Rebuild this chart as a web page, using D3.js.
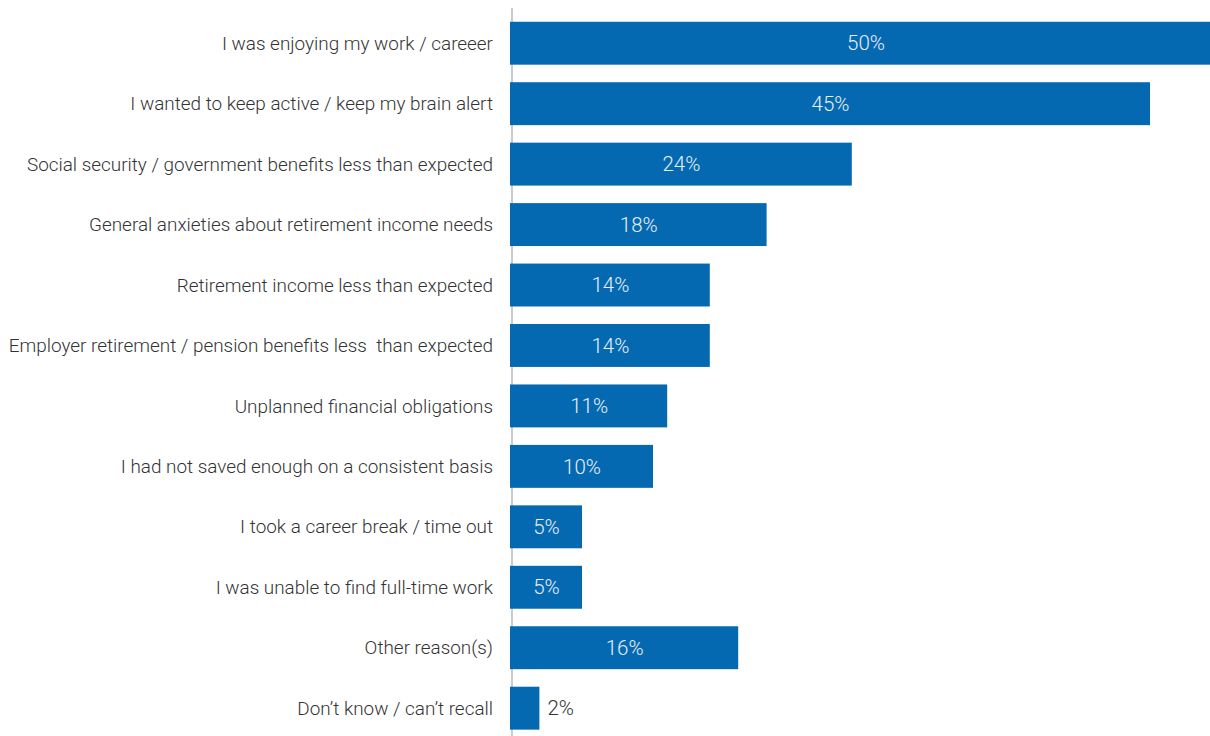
<!DOCTYPE html>
<html>
<head>
<meta charset="utf-8">
<script src="https://cdn.jsdelivr.net/npm/d3@7"></script>
<style>
  body { margin: 0; background: #fff; }
  text { font-family: Roboto, "Open Sans", sans-serif; font-weight: 300; white-space: pre; }
</style>
</head>
<body>
<div id="chart"></div>
<script>
var categories = [
    "I was enjoying my work / careeer",
    "I wanted to keep active / keep my brain alert",
    "Social security / government benefits less than expected",
    "General anxieties about retirement income needs",
    "Retirement income less than expected",
    "Employer retirement / pension benefits less  than expected",
    "Unplanned financial obligations",
    "I had not saved enough on a consistent basis",
    "I took a career break / time out",
    "I was unable to find full-time work",
    "Other reason(s)",
    "Don\u2019t know / can\u2019t recall"
];
var values = [50, 45, 24, 18, 14, 14, 11, 10, 5, 5, 16, 2];

var data = categories.map(function (c, i) { return {name: c, value: values[i]}; });

var width = 1210, height = 736;
var x0 = 511;

var svg = d3.select("#chart").append("svg")
    .attr("width", width)
    .attr("height", height);

var x = d3.scaleLinear()
    .domain([0, 50])
    .range([x0, x0 + 710]);

var y = d3.scaleBand()
    .domain(categories)
    .range([13, 13 + 12 * 60.45])
    .paddingInner(0.29)
    .paddingOuter(0.145);

// axis line (under the bars)
svg.append("line")
    .attr("x1", x0 + 1).attr("x2", x0 + 1)
    .attr("y1", 8).attr("y2", height)
    .attr("stroke", "#c5ccd4")
    .attr("stroke-width", 2);

svg.selectAll(".bar")
    .data(data)
    .enter().append("rect")
    .attr("class", "bar")
    .attr("x", x(0) - 1)
    .attr("y", function (d) { return y(d.name); })
    .attr("width", function (d) { return x(d.value) - x(0) + 1; })
    .attr("height", y.bandwidth())
    .attr("fill", "#0569b1");

svg.selectAll(".cat-label")
    .data(data)
    .enter().append("text")
    .attr("class", "cat-label")
    .attr("x", 493)
    .attr("y", function (d) { return y(d.name) + y.bandwidth() / 2; })
    .attr("dy", "0.35em")
    .attr("text-anchor", "end")
    .attr("fill", "#333")
    .style("font-size", "18.9px")
    .text(function (d) { return d.name; });

svg.selectAll(".bar-label")
    .data(data)
    .enter().append("text")
    .attr("class", "bar-label")
    .attr("x", function (d) {
        return d.value < 4 ? x(d.value) + 8 : (x(0) + x(d.value)) / 2;
    })
    .attr("y", function (d) { return y(d.name) + y.bandwidth() / 2; })
    .attr("dy", "0.35em")
    .attr("text-anchor", function (d) { return d.value < 4 ? "start" : "middle"; })
    .attr("fill", function (d) { return d.value < 4 ? "#333" : "#e6eef6"; })
    .style("font-size", "20.5px")
    .text(function (d) { return d.value + "%"; });
</script>
</body>
</html>
